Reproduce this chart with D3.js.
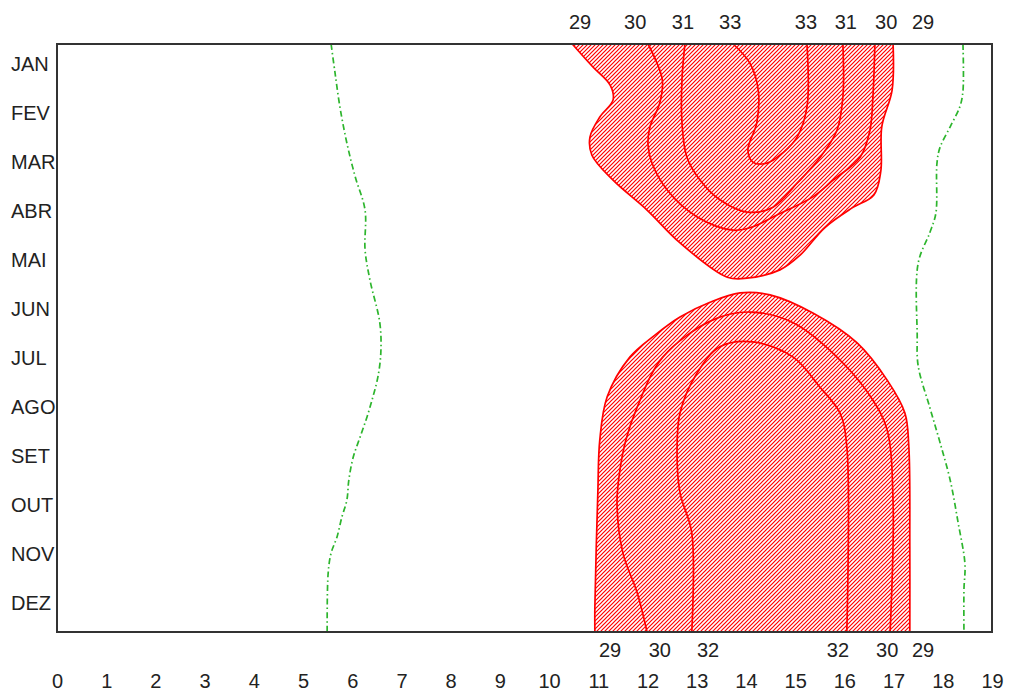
<!DOCTYPE html>
<html>
<head>
<meta charset="utf-8">
<script src="https://cdn.jsdelivr.net/npm/d3@7"></script>
<style>
  body { margin: 0; background: #fff; }
  text { font-family: "Liberation Sans", Arial, sans-serif; fill: #222; }
</style>
</head>
<body>
<div id="container"></div>
<script>
// month labels (index 0 = JAN), hour ticks
const months = ['JAN', 'FEV', 'MAR', 'ABR', 'MAI', 'JUN', 'JUL', 'AGO', 'SET', 'OUT', 'NOV', 'DEZ'];
const hours = [0, 1, 2, 3, 4, 5, 6, 7, 8, 9, 10, 11, 12, 13, 14, 15, 16, 17, 18, 19];

// contour lines as [hour, month index]
// upper block (Jan - May)
const top29 = [[10.47,-0.40],[10.89,0.07],[11.24,0.44],[11.30,0.74],[11.03,1.09],[10.83,1.50],[10.87,1.87],
  [11.30,2.38],[11.99,2.99],[12.66,3.66],[13.62,4.36],[14.02,4.38],[14.69,4.21],[15.10,3.91],[15.60,3.35],
  [16.15,2.95],[16.60,2.68],[16.74,2.20],[16.76,1.29],[16.97,0.54],[16.99,-0.40]];
const top30 = [[12.01,-0.40],[12.30,0.33],[12.25,0.80],[12.05,1.29],[12.01,1.66],[12.09,2.03],[12.40,2.58],
  [13.01,3.13],[13.74,3.40],[14.14,3.33],[14.63,3.09],[15.36,2.72],[15.77,2.38],[16.32,1.91],[16.52,1.36],
  [16.58,0.68],[16.62,-0.40]];
const top31 = [[12.76,-0.40],[12.70,0.33],[12.70,1.21],[12.80,1.91],[13.07,2.38],[13.47,2.78],[14.02,3.03],
  [14.55,2.93],[15.04,2.44],[15.51,1.91],[15.85,1.36],[15.97,0.68],[15.97,-0.40]];
const top33 = [[13.74,-0.40],[14.08,-0.01],[14.25,0.54],[14.22,1.21],[14.04,1.76],[14.14,2.01],[14.43,2.03],
  [14.75,1.82],[15.04,1.50],[15.24,0.89],[15.24,-0.40]];

// lower block (Jun - Dec)
const bot29 = [[10.93,11.60],[10.93,11.09],[10.99,8.76],[11.03,7.68],[11.18,6.80],[11.64,5.99],[12.15,5.54],
  [12.66,5.17],[13.27,4.87],[13.88,4.68],[14.49,4.72],[15.36,5.09],[16.26,5.70],[16.87,6.46],[17.23,7.13],
  [17.31,7.82],[17.33,9.87],[17.33,11.60]];
const bot30 = [[11.99,11.60],[11.79,10.80],[11.50,9.99],[11.38,8.97],[11.44,8.29],[11.56,7.68],[11.79,7.01],
  [12.31,5.99],[13.33,5.23],[14.08,5.07],[14.96,5.29],[15.97,6.11],[16.58,6.87],[16.87,7.48],[16.99,8.97],
  [16.93,11.60]];
const bot32 = [[12.90,11.60],[12.90,9.58],[12.66,8.76],[12.60,7.95],[12.66,7.13],[13.01,6.31],[13.47,5.78],
  [14.14,5.68],[14.96,5.99],[15.50,6.60],[15.91,7.13],[16.05,7.82],[16.05,11.60]];

// green dash-dot curves
const greenLeft = [[5.57,-0.40],[5.65,0.19],[5.75,0.89],[5.89,1.62],[6.06,2.31],[6.26,2.99],[6.26,3.80],
  [6.36,4.42],[6.56,5.29],[6.58,5.91],[6.52,6.40],[6.42,6.80],[6.30,7.21],[6.16,7.62],[6.02,8.03],[5.93,8.50],
  [5.89,8.91],[5.79,9.25],[5.69,9.66],[5.57,9.99],[5.51,10.40],[5.49,11.60]];
const greenRight = [[18.41,-0.40],[18.41,0.56],[18.35,0.87],[18.15,1.29],[17.94,1.72],[17.88,2.05],[17.86,3.05],
  [17.74,3.44],[17.50,4.07],[17.48,5.54],[17.50,6.17],[17.74,7.03],[17.94,7.72],[18.15,8.50],[18.31,9.36],
  [18.45,10.21],[18.43,10.74],[18.43,11.60]];

// contour labels on top and bottom edges: value and hour position
const topLabels = [29, 30, 31, 33, 33, 31, 30, 29];
const topLabelHours = [10.63, 11.75, 12.72, 13.68, 15.22, 16.03, 16.85, 17.60];
const botLabels = [29, 30, 32, 32, 30, 29];
const botLabelHours = [11.24, 12.25, 13.23, 15.87, 16.87, 17.60];

const w = 1013, h = 691;

const xScale = d3.scaleLinear().domain([0, 19]).range([57, 992]);
const yScale = d3.scaleLinear().domain([-0.4, 11.6]).range([44, 632]);

const svg = d3.select('#container').append('svg')
  .attr('width', w)
  .attr('height', h);

const defs = svg.append('defs');
defs.append('pattern')
  .attr('id', 'hatch')
  .attr('patternUnits', 'userSpaceOnUse')
  .attr('width', 4)
  .attr('height', 4)
  .append('path')
  .attr('d', 'M-1,1 l2,-2 M0,4 l4,-4 M3,5 l2,-2')
  .attr('stroke', '#ff0000')
  .attr('stroke-width', 1.2);

const line = d3.line()
  .x(d => xScale(d[0]))
  .y(d => yScale(d[1]))
  .curve(d3.curveCatmullRom.alpha(0.5));

// hatched areas, closed along plot edge
[top29, bot29].forEach(c => {
  svg.append('path')
    .attr('d', line(c) + 'Z')
    .attr('fill', 'url(#hatch)')
    .attr('stroke', 'none');
});

// contour lines
[top29, top30, top31, top33, bot29, bot30, bot32].forEach(c => {
  svg.append('path')
    .attr('d', line(c))
    .attr('fill', 'none')
    .attr('stroke', '#ff0000')
    .attr('stroke-width', 1.7);
});

[greenLeft, greenRight].forEach(c => {
  svg.append('path')
    .attr('d', line(c))
    .attr('fill', 'none')
    .attr('stroke', '#2db52d')
    .attr('stroke-width', 1.7)
    .attr('stroke-dasharray', '6,3,1.5,3');
});

// frame
svg.append('rect')
  .attr('x', xScale(0))
  .attr('y', yScale(-0.4))
  .attr('width', xScale(19) - xScale(0))
  .attr('height', yScale(11.6) - yScale(-0.4))
  .attr('fill', 'none')
  .attr('stroke', '#333')
  .attr('stroke-width', 2);

// axes
const xAxis = d3.axisBottom(xScale).tickValues(hours).tickSize(0).tickPadding(42);
svg.append('g')
  .attr('id', 'x-axis')
  .attr('transform', 'translate(0,' + yScale(11.6) + ')')
  .call(xAxis)
  .call(g => g.select('.domain').remove())
  .selectAll('text')
  .style('font-size', '20px')
  .style('font-family', '"Liberation Sans", Arial, sans-serif')
  .attr('fill', '#222');

const yAxis = d3.axisLeft(yScale).tickValues(d3.range(12)).tickFormat(i => months[i]).tickSize(0);
svg.append('g')
  .attr('id', 'y-axis')
  .attr('transform', 'translate(' + xScale(0) + ',0)')
  .call(yAxis)
  .call(g => g.select('.domain').remove())
  .selectAll('text')
  .attr('text-anchor', 'start')
  .attr('x', 11 - xScale(0))
  .style('font-size', '20px')
  .style('font-family', '"Liberation Sans", Arial, sans-serif')
  .attr('fill', '#222');

// contour value labels
svg.selectAll('.toplab')
  .data(topLabels)
  .enter()
  .append('text')
  .attr('class', 'toplab')
  .attr('x', (d, i) => xScale(topLabelHours[i]))
  .attr('y', 22)
  .attr('dy', '0.36em')
  .attr('text-anchor', 'middle')
  .style('font-size', '20px')
  .text(d => d);

svg.selectAll('.botlab')
  .data(botLabels)
  .enter()
  .append('text')
  .attr('class', 'botlab')
  .attr('x', (d, i) => xScale(botLabelHours[i]))
  .attr('y', 650)
  .attr('dy', '0.36em')
  .attr('text-anchor', 'middle')
  .style('font-size', '20px')
  .text(d => d);
</script>
</body>
</html>
